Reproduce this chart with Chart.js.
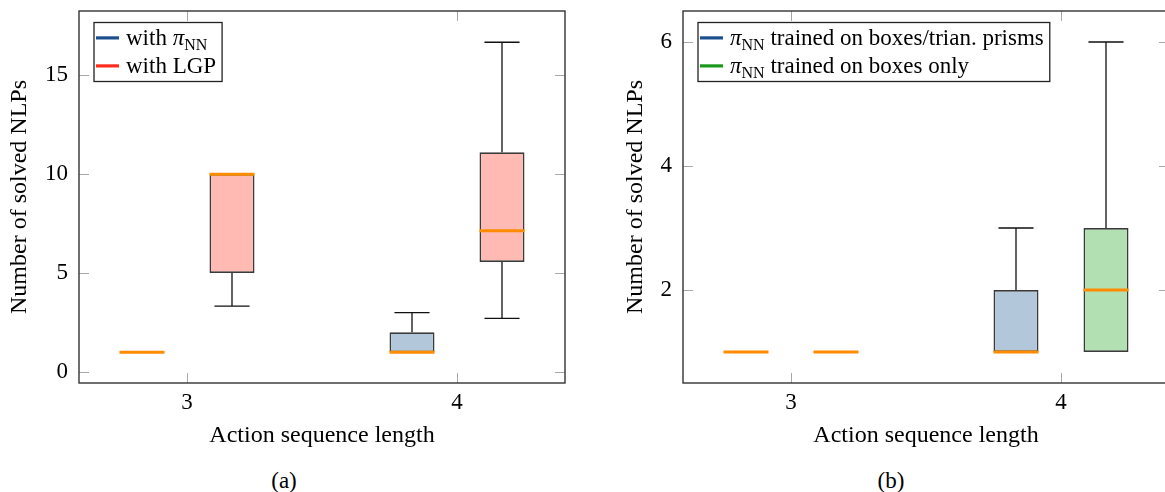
<!DOCTYPE html>
<html>
<head>
<meta charset="utf-8">
<script src="https://cdn.jsdelivr.net/npm/chart.js@4.4.1/dist/chart.umd.min.js"></script>
<style>
  body { margin: 0; width: 1165px; height: 492px; overflow: hidden; background: #fff; position: relative; }
  .panel { position: absolute; top: 0; }
  .caption { position: absolute; top: 469px; font: 23px "Liberation Serif", serif; line-height: 23px; transform: translateX(-50%); }
</style>
</head>
<body>
<canvas id="chartA" class="panel" style="left:0px" width="580" height="460"></canvas>
<canvas id="chartB" class="panel" style="left:604px" width="580" height="460"></canvas>
<div class="caption" style="left:284px">(a)</div>
<div class="caption" style="left:891px">(b)</div>
<script>
// action sequence lengths on the x axis
const lengths = [3, 4]
const xTicks = [3, 4]

// box stats per length: [min, q1, median, q3, max]
// (a)
const nnStatsA = [[1, 1, 1, 1, 1], [1, 1, 1, 2, 3]]
const lgpStatsA = [[3.33, 5, 10, 10, 10], [2.71, 5.56, 7.14, 11.11, 16.67]]
const yTicksA = [0, 5, 10, 15]
// (b)
const mixedStatsB = [[1, 1, 1, 1, 1], [1, 1, 1, 2, 3]]
const boxesOnlyStatsB = [[1, 1, 1, 1, 1], [1, 1, 2, 3, 6]]
const yTicksB = [2, 4, 6]

const labelsA = ['with π_NN', 'with LGP']
const labelsB = ['π_NN trained on boxes/trian. prisms', 'π_NN trained on boxes only']

const FONT = '"Liberation Serif", "Times New Roman", serif'
const MEDIAN = '#ff8c00'
const OFFSET = 1 / 6

Chart.defaults.color = '#000'
Chart.defaults.font.family = FONT

function boxSet (label, stats, side, fill, line) {
  return {
    label,
    stats,
    lineColor: line,
    data: lengths.map((len, i) => ({ x: len + side * OFFSET, y: [stats[i][1], stats[i][3]] })),
    backgroundColor: fill,
    borderColor: '#3a3a3a',
    borderWidth: 1.7,
    borderSkipped: false,
    grouped: false,
    categoryPercentage: 1,
    barPercentage: 0.5
  }
}

// whiskers and median lines on top of the bar boxes
const whiskers = {
  id: 'whiskers',
  afterDatasetsDraw (chart) {
    const { ctx } = chart
    const y = chart.scales.y
    chart.data.datasets.forEach((ds, di) => {
      chart.getDatasetMeta(di).data.forEach((bar, i) => {
        const [lo, q1, med, q3, hi] = ds.stats[i]
        const { x, width } = bar.getProps(['x', 'width'], true)
        const cap = width * 0.39
        ctx.save()
        ctx.strokeStyle = '#111'
        ctx.lineWidth = 1.3
        ctx.beginPath()
        if (hi > q3) {
          ctx.moveTo(x, y.getPixelForValue(q3)); ctx.lineTo(x, y.getPixelForValue(hi))
          ctx.moveTo(x - cap, y.getPixelForValue(hi)); ctx.lineTo(x + cap, y.getPixelForValue(hi))
        }
        if (lo < q1) {
          ctx.moveTo(x, y.getPixelForValue(q1)); ctx.lineTo(x, y.getPixelForValue(lo))
          ctx.moveTo(x - cap, y.getPixelForValue(lo)); ctx.lineTo(x + cap, y.getPixelForValue(lo))
        }
        ctx.stroke()
        ctx.strokeStyle = MEDIAN
        ctx.lineWidth = 3
        ctx.beginPath()
        ctx.moveTo(x - width / 2, y.getPixelForValue(med))
        ctx.lineTo(x + width / 2, y.getPixelForValue(med))
        ctx.stroke()
        ctx.restore()
      })
    })
  }
}

// pgfplots style frame with inward ticks
const frame = {
  id: 'frame',
  afterDraw (chart) {
    const { ctx, chartArea: a, scales } = chart
    const len = 10
    ctx.save()
    ctx.strokeStyle = '#a8a8a8'
    ctx.lineWidth = 1
    ctx.beginPath()
    scales.x.ticks.forEach(t => {
      const px = Math.round(scales.x.getPixelForValue(t.value)) + 0.5
      ctx.moveTo(px, a.bottom); ctx.lineTo(px, a.bottom - len)
      ctx.moveTo(px, a.top); ctx.lineTo(px, a.top + len)
    })
    scales.y.ticks.forEach(t => {
      const py = Math.round(scales.y.getPixelForValue(t.value)) + 0.5
      ctx.moveTo(a.left, py); ctx.lineTo(a.left + len, py)
      ctx.moveTo(a.right, py); ctx.lineTo(a.right - len, py)
    })
    ctx.stroke()
    ctx.strokeStyle = '#333'
    ctx.lineWidth = 1.4
    ctx.strokeRect(a.left, a.top, a.right - a.left, a.bottom - a.top)
    ctx.restore()
  }
}

function segments (label) {
  const out = []
  label.split(/(π_\w+)/).forEach(part => {
    if (!part) return
    if (part.startsWith('π_')) {
      out.push({ t: 'π', font: 'italic 23px ' + FONT, dy: 0 })
      out.push({ t: part.slice(2), font: '16px ' + FONT, dy: 5 })
    } else {
      out.push({ t: part, font: '23px ' + FONT, dy: 0 })
    }
  })
  return out
}

// legend box inside the plot, upper left
const boxLegend = {
  id: 'boxLegend',
  afterDraw (chart) {
    const { ctx, chartArea: a } = chart
    const left = a.left + 15
    const top = a.top + 11.5
    const rowH = 28
    const items = chart.data.datasets.map(ds => ({ color: ds.lineColor, segs: segments(ds.label) }))
    ctx.save()
    let maxW = 0
    items.forEach(it => {
      let w = 0
      it.segs.forEach(s => { ctx.font = s.font; s.w = ctx.measureText(s.t).width; w += s.w })
      maxW = Math.max(maxW, w)
    })
    ctx.fillStyle = '#fff'
    ctx.fillRect(left, top, 32 + maxW + 6, rowH * items.length + 3)
    ctx.strokeStyle = '#222'
    ctx.lineWidth = 1.3
    ctx.strokeRect(left, top, 32 + maxW + 6, rowH * items.length + 3)
    items.forEach((it, i) => {
      const cy = top + 15.4 + rowH * i
      ctx.strokeStyle = it.color
      ctx.lineWidth = 3.2
      ctx.beginPath()
      ctx.moveTo(left + 2, cy); ctx.lineTo(left + 25, cy)
      ctx.stroke()
      let x = left + 32
      ctx.fillStyle = '#000'
      ctx.textBaseline = 'alphabetic'
      it.segs.forEach(s => {
        ctx.font = s.font
        ctx.fillText(s.t, x, cy + 7 + s.dy)
        x += s.w
      })
    })
    ctx.restore()
  }
}

function makeChart (el, datasets, yMin, yMax, yTicks, yTitlePad) {
  return new Chart(el, {
    type: 'bar',
    data: { datasets },
    options: {
      responsive: false,
      animation: false,
      events: [],
      layout: { padding: { left: 0, right: 15, top: 11, bottom: 0 } },
      plugins: { legend: { display: false }, tooltip: { enabled: false } },
      scales: {
        x: {
          type: 'linear',
          offset: false,
          min: 2.6,
          max: 4.4,
          afterBuildTicks: s => { s.ticks = xTicks.map(v => ({ value: v })) },
          afterFit: s => { s.height = 77; s.paddingLeft = 0; s.paddingRight = 0 },
          grid: { display: false, drawTicks: false },
          border: { display: false },
          ticks: { padding: 6, font: { size: 23 } },
          title: { display: true, text: 'Action sequence length', font: { size: 24 }, padding: { top: 0, bottom: 10 } }
        },
        y: {
          min: yMin,
          max: yMax,
          afterBuildTicks: s => { s.ticks = yTicks.map(v => ({ value: v })) },
          afterFit: s => { s.width = 79; s.paddingTop = 0; s.paddingBottom = 0 },
          grid: { display: false, drawTicks: false },
          border: { display: false },
          ticks: { padding: 11, font: { size: 23 } },
          title: { display: true, text: 'Number of solved NLPs', font: { size: 24 }, padding: { top: yTitlePad, bottom: 0 } }
        }
      }
    },
    plugins: [whiskers, frame, boxLegend]
  })
}

makeChart(document.getElementById('chartA'), [
  boxSet(labelsA[0], nnStatsA, -1, '#b3c7da', '#1c4f8d'),
  boxSet(labelsA[1], lgpStatsA, 1, '#ffbbb3', '#ff2b1b')
], -0.56, 18.25, yTicksA, 5)

makeChart(document.getElementById('chartB'), [
  boxSet(labelsB[0], mixedStatsB, -1, '#b3c7da', '#1c4f8d'),
  boxSet(labelsB[1], boxesOnlyStatsB, 1, '#b3e0b3', '#19991a')
], 0.5, 6.5, yTicksB, 17)
</script>
</body>
</html>
